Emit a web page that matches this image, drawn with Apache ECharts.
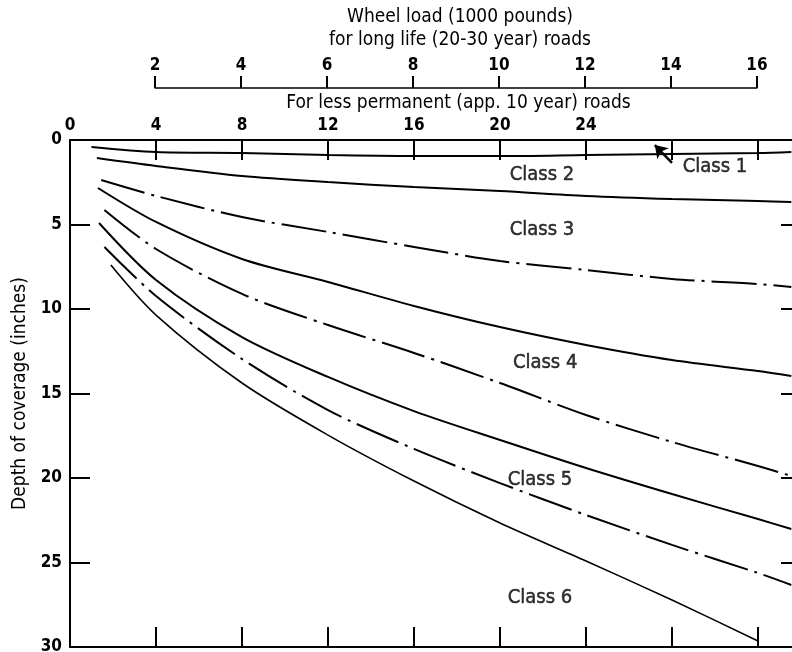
<!DOCTYPE html>
<html>
<head>
<meta charset="utf-8">
<script src="https://cdn.jsdelivr.net/npm/echarts@6/dist/echarts.min.js"></script>
<style>
html,body{margin:0;padding:0;background:#fff;}
#chart{width:792px;height:652px;}
</style>
</head>
<body>
<div id="chart"></div>
<script>
// ---- data ----
// x positions along the lower (10-year roads) wheel-load scale
const xPts = [4, 8, 12, 16, 20, 24, 28, 32, 33.55];
// starting point of each curve
const startX = [1.0, 1.25, 1.45, 1.3, 1.6, 1.35, 1.6, 1.9];
const startY = [0.41, 1.07, 2.37, 2.84, 4.14, 4.91, 6.33, 7.4];
// depth of coverage (inches) at xPts
const line1 = [0.71, 0.77, 0.89, 0.95, 0.95, 0.89, 0.83, 0.77, 0.71];
const line2 = [1.54, 2.13, 2.49, 2.78, 3.02, 3.31, 3.49, 3.61, 3.67];
const line3 = [3.31, 4.56, 5.44, 6.33, 7.16, 7.69, 8.22, 8.52, 8.7];
const line4 = [4.85, 7.04, 8.4, 9.82, 11.07, 12.13, 13.02, 13.67, 13.96];
const line5 = [6.45, 9.11, 10.95, 12.6, 14.38, 16.27, 17.87, 19.29, 19.88];
const line6 = [8.28, 11.66, 14.02, 16.04, 17.75, 19.41, 20.95, 22.43, 23.02];
const line7 = [9.23, 12.96, 15.98, 18.28, 20.3, 22.19, 23.96, 25.62, 26.33];
const line8 = [10.36, 14.38, 17.46, 20.18, 22.66, 24.91, 27.22, 29.64];
const lineKinds = ['solid', 'solid', 'dashdot', 'solid', 'dashdot', 'solid', 'dashdot', 'solid'];

// class labels (position in data units)
const classNames = ['Class 1', 'Class 2', 'Class 3', 'Class 4', 'Class 5', 'Class 6'];
const classX = [30.0, 21.95, 21.95, 22.1, 21.86, 21.86];
const classY = [1.6, 2.07, 5.33, 13.2, 20.1, 27.1];
// arrow pointing to Class 1 zone
const arrowFrom = [28.0, 1.36];
const arrowTo = [27.2, 0.3];

// tick labels
const lowerTickMax = 24;          // lower top scale labelled 0..24
const upperTicks = [2, 16];       // long-life scale spans 2..16

// ---- chart ----
const FONT = '"DejaVu Sans Condensed","DejaVu Sans",sans-serif';
const lines = [line1, line2, line3, line4, line5, line6, line7, line8];
const series = lines.map((vals, i) => {
  const data = [[startX[i], startY[i]]];
  vals.forEach((v, j) => data.push([xPts[j], v]));
  return {
    type: 'line',
    xAxisIndex: 0, yAxisIndex: 0,
    data: data,
    showSymbol: false,
    smooth: 0.3,
    silent: true,
    lineStyle: {
      color: '#000',
      width: i === 7 ? 1.6 : 2,
      type: lineKinds[i] === 'dashdot' ? [45, 7, 3, 7] : 'solid'
    }
  };
});
series.push({
  type: 'scatter',
  xAxisIndex: 0, yAxisIndex: 0,
  symbolSize: 0,
  silent: true,
  data: classNames.map((n, i) => ({ value: [classX[i], classY[i]], name: n })),
  label: {
    show: true, position: 'inside',
    formatter: p => p.name,
    color: '#000', fontSize: 20, fontFamily: FONT,
    textBorderColor: '#000', textBorderWidth: 0.5
  },
  markLine: {
    silent: true,
    symbolSize: 12,
    lineStyle: { color: '#000', width: 2.5, type: 'solid' },
    label: { show: false },
    data: [[
      { coord: arrowFrom, symbol: 'none' },
      { coord: arrowTo, symbol: 'arrow' }
    ]]
  }
});

const tickStyle = { color: '#000', width: 2 };
const chart = echarts.init(document.getElementById('chart'));
chart.setOption({
  animation: false,
  backgroundColor: '#fff',
  grid: [
    { left: 70, top: 140, width: 731, bottom: 5, outerBoundsMode: 'none', containLabel: false },
    { left: 155, right: 35, top: 88, height: 10, outerBoundsMode: 'none', containLabel: false }
  ],
  xAxis: [
    {
      type: 'value', gridIndex: 0, position: 'top', min: 0, max: 34, interval: 4,
      axisLine: { onZero: false, lineStyle: tickStyle },
      axisTick: { inside: true, length: 20, lineStyle: tickStyle },
      splitLine: { show: false },
      axisLabel: {
        margin: 6, color: '#000', fontSize: 17, fontWeight: 'bold', fontFamily: FONT,
        formatter: v => (v <= lowerTickMax ? String(v) : '')
      },
      name: 'For less permanent (app. 10 year) roads',
      nameLocation: 'middle', nameGap: 24,
      nameTextStyle: { color: '#000', fontSize: 19, fontFamily: FONT, padding: [0, 0, 0, 46] }
    },
    {
      type: 'value', gridIndex: 0, position: 'bottom', min: 0, max: 34, interval: 4,
      axisLine: { onZero: false, lineStyle: tickStyle },
      axisTick: { inside: true, length: 20, lineStyle: tickStyle },
      splitLine: { show: false },
      axisLabel: { show: false }
    },
    {
      type: 'value', gridIndex: 1, position: 'top', min: upperTicks[0], max: upperTicks[1], interval: 2,
      axisLine: { onZero: false, lineStyle: { color: '#000', width: 1.5 } },
      axisTick: { inside: false, length: 12, lineStyle: tickStyle },
      splitLine: { show: false },
      axisLabel: { margin: 14, color: '#000', fontSize: 17, fontWeight: 'bold', fontFamily: FONT },
      name: 'Wheel load (1000 pounds)\nfor long life (20-30 year) roads',
      nameLocation: 'middle', nameGap: 36,
      nameTextStyle: { color: '#000', fontSize: 19, lineHeight: 23, fontFamily: FONT, padding: [0, 0, 0, 8] }
    }
  ],
  yAxis: [
    {
      type: 'value', gridIndex: 0, position: 'left', inverse: true, min: 0, max: 30, interval: 5,
      axisLine: { onZero: false, lineStyle: tickStyle },
      axisTick: { inside: true, length: 20, lineStyle: tickStyle },
      splitLine: { show: false },
      axisLabel: { margin: 8, color: '#000', fontSize: 17, fontWeight: 'bold', fontFamily: FONT },
      name: 'Depth of coverage (inches)',
      nameLocation: 'middle', nameGap: 38, nameRotate: 90,
      nameTextStyle: { color: '#000', fontSize: 19, fontFamily: FONT }
    },
    {
      type: 'value', gridIndex: 0, position: 'right', inverse: true, min: 0, max: 30, interval: 5,
      axisLine: { onZero: false, lineStyle: tickStyle },
      axisTick: { inside: true, length: 20, lineStyle: tickStyle },
      splitLine: { show: false },
      axisLabel: { show: false }
    },
    { type: 'value', gridIndex: 1, show: false, min: 0, max: 1 }
  ],
  series: series
});
</script>
</body>
</html>
